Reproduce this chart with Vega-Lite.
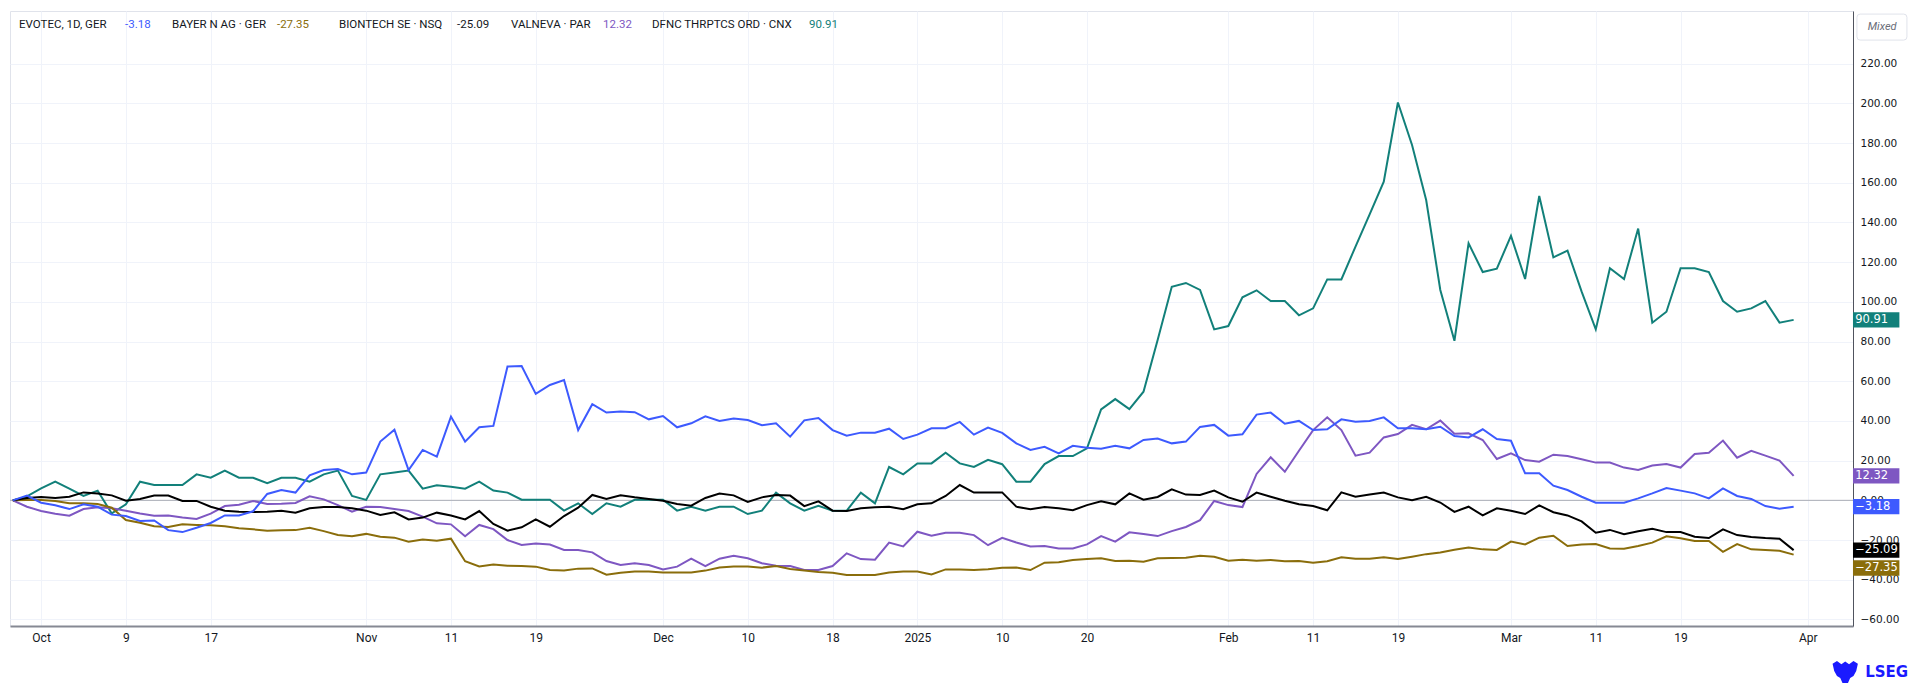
{
  "$schema": "https://vega.github.io/schema/vega-lite/v6.json",
  "width": 1843,
  "height": 615,
  "autosize": {"type": "none"},
  "padding": {"left": 10, "top": 11, "right": 67, "bottom": 58},
  "background": "#ffffff",
  "config": {"view": {"stroke": "#e0e3eb", "strokeWidth": 1}},
  "datasets": {
    "px": [
      {"d":"2024-09-27","evo":0,"bay":0,"bnt":0,"val":0,"dfn":0},
      {"d":"2024-09-30","evo":2.4,"bay":0.2,"bnt":1.2,"val":-3.2,"dfn":2},
      {"d":"2024-10-01","evo":-1.2,"bay":0.2,"bnt":1.7,"val":-5.4,"dfn":6},
      {"d":"2024-10-02","evo":-2.5,"bay":-0.3,"bnt":1.2,"val":-6.7,"dfn":9.4},
      {"d":"2024-10-03","evo":-4.4,"bay":-1.5,"bnt":1.8,"val":-7.7,"dfn":5.9},
      {"d":"2024-10-04","evo":-2,"bay":-1.5,"bnt":4,"val":-4.4,"dfn":2.2},
      {"d":"2024-10-07","evo":-3.2,"bay":-1.8,"bnt":3.5,"val":-3.5,"dfn":4.9},
      {"d":"2024-10-08","evo":-7.2,"bay":-3.7,"bnt":2.5,"val":-4,"dfn":-6.6},
      {"d":"2024-10-09","evo":-7.9,"bay":-9.9,"bnt":-0.2,"val":-5.2,"dfn":-2},
      {"d":"2024-10-10","evo":-10.4,"bay":-11.3,"bnt":0.7,"val":-6.6,"dfn":9.4},
      {"d":"2024-10-11","evo":-10.1,"bay":-13,"bnt":2.4,"val":-7.7,"dfn":7.7},
      {"d":"2024-10-14","evo":-15,"bay":-13.4,"bnt":2.4,"val":-7.6,"dfn":7.7},
      {"d":"2024-10-15","evo":-16,"bay":-12.1,"bnt":-0.3,"val":-8.6,"dfn":7.7},
      {"d":"2024-10-16","evo":-13.8,"bay":-12.4,"bnt":-0.3,"val":-9.4,"dfn":13.1},
      {"d":"2024-10-17","evo":-11.4,"bay":-12.6,"bnt":-3.2,"val":-6.7,"dfn":11.4},
      {"d":"2024-10-18","evo":-7.6,"bay":-13.1,"bnt":-5.2,"val":-2.9,"dfn":15},
      {"d":"2024-10-21","evo":-7.6,"bay":-14.1,"bnt":-5.7,"val":-2.2,"dfn":11.4},
      {"d":"2024-10-22","evo":-5.5,"bay":-14.6,"bnt":-5.9,"val":-0.3,"dfn":11.4},
      {"d":"2024-10-23","evo":3.2,"bay":-15.3,"bnt":-5.7,"val":-1.8,"dfn":8.6},
      {"d":"2024-10-24","evo":5.2,"bay":-15.1,"bnt":-5.2,"val":-1.7,"dfn":11.4},
      {"d":"2024-10-25","evo":3.9,"bay":-15,"bnt":-6.2,"val":-1.3,"dfn":11.4},
      {"d":"2024-10-28","evo":12.6,"bay":-13.8,"bnt":-4,"val":2,"dfn":9.4},
      {"d":"2024-10-29","evo":15.3,"bay":-15.5,"bnt":-3.4,"val":0.5,"dfn":13.1},
      {"d":"2024-10-30","evo":15.8,"bay":-17.5,"bnt":-3.4,"val":-2.4,"dfn":15},
      {"d":"2024-10-31","evo":13.1,"bay":-18.1,"bnt":-4,"val":-5.7,"dfn":2.2},
      {"d":"2024-11-01","evo":14,"bay":-16.9,"bnt":-5.2,"val":-3.2,"dfn":0.2},
      {"d":"2024-11-04","evo":29.6,"bay":-18.3,"bnt":-7.4,"val":-3.4,"dfn":13.1},
      {"d":"2024-11-05","evo":35.6,"bay":-18.8,"bnt":-6,"val":-4.4,"dfn":14},
      {"d":"2024-11-06","evo":15.3,"bay":-20.8,"bnt":-9.6,"val":-5.4,"dfn":15},
      {"d":"2024-11-07","evo":25.4,"bay":-19.7,"bnt":-8.7,"val":-8.2,"dfn":5.9},
      {"d":"2024-11-08","evo":22,"bay":-20.3,"bnt":-6.2,"val":-11.6,"dfn":7.6},
      {"d":"2024-11-11","evo":42.2,"bay":-19.3,"bnt":-7.6,"val":-12.1,"dfn":6.9},
      {"d":"2024-11-12","evo":29.6,"bay":-30.7,"bnt":-9.6,"val":-18.1,"dfn":5.9},
      {"d":"2024-11-13","evo":36.8,"bay":-33.3,"bnt":-5.4,"val":-12.4,"dfn":9.4},
      {"d":"2024-11-14","evo":37.5,"bay":-32.3,"bnt":-11.9,"val":-14.5,"dfn":4.9},
      {"d":"2024-11-15","evo":67.4,"bay":-32.9,"bnt":-15.3,"val":-20,"dfn":3.9},
      {"d":"2024-11-18","evo":67.7,"bay":-33.1,"bnt":-13.6,"val":-22.5,"dfn":0.3},
      {"d":"2024-11-19","evo":53.6,"bay":-33.4,"bnt":-9.6,"val":-21.8,"dfn":0.3},
      {"d":"2024-11-20","evo":58.1,"bay":-35.1,"bnt":-13.3,"val":-22.3,"dfn":0.3},
      {"d":"2024-11-21","evo":60.6,"bay":-35.4,"bnt":-7.9,"val":-25,"dfn":-5.2},
      {"d":"2024-11-22","evo":35.4,"bay":-34.4,"bnt":-3.7,"val":-25,"dfn":-1.5},
      {"d":"2024-11-25","evo":48.4,"bay":-34.3,"bnt":2.7,"val":-26.2,"dfn":-6.9},
      {"d":"2024-11-26","evo":44.2,"bay":-37.5,"bnt":0.7,"val":-30.6,"dfn":-1.5},
      {"d":"2024-11-27","evo":44.7,"bay":-36.5,"bnt":2.5,"val":-32.6,"dfn":-3.2},
      {"d":"2024-11-28","evo":44.4,"bay":-35.9,"bnt":1.5,"val":-31.7,"dfn":0.3},
      {"d":"2024-11-29","evo":40.8,"bay":-35.8,"bnt":0.7,"val":-32.6,"dfn":0.3},
      {"d":"2024-12-02","evo":42.5,"bay":-36.3,"bnt":-0.2,"val":-34.8,"dfn":0.3},
      {"d":"2024-12-03","evo":36.8,"bay":-36.3,"bnt":-1.8,"val":-33.4,"dfn":-5.2},
      {"d":"2024-12-04","evo":38.8,"bay":-36.3,"bnt":-2.7,"val":-29.4,"dfn":-3.2},
      {"d":"2024-12-05","evo":42.3,"bay":-35.4,"bnt":1.2,"val":-33.1,"dfn":-5.2},
      {"d":"2024-12-06","evo":40,"bay":-33.8,"bnt":3.4,"val":-29.4,"dfn":-3.2},
      {"d":"2024-12-09","evo":41.2,"bay":-33.3,"bnt":2.5,"val":-27.9,"dfn":-3.2},
      {"d":"2024-12-10","evo":40.5,"bay":-33.3,"bnt":-0.8,"val":-29.2,"dfn":-6.9},
      {"d":"2024-12-11","evo":37.8,"bay":-33.9,"bnt":1.5,"val":-31.7,"dfn":-5.2},
      {"d":"2024-12-12","evo":38.8,"bay":-33.1,"bnt":2.7,"val":-32.9,"dfn":3.9},
      {"d":"2024-12-13","evo":32.1,"bay":-34.6,"bnt":2.4,"val":-33.1,"dfn":-1.5},
      {"d":"2024-12-16","evo":40.3,"bay":-35.4,"bnt":-2.9,"val":-35.1,"dfn":-5.2},
      {"d":"2024-12-17","evo":41.5,"bay":-36.1,"bnt":-0.5,"val":-35.1,"dfn":-2.7},
      {"d":"2024-12-18","evo":35.4,"bay":-36.5,"bnt":-5.2,"val":-33.1,"dfn":-5.2},
      {"d":"2024-12-19","evo":32.6,"bay":-37.6,"bnt":-5.4,"val":-26.7,"dfn":-5.2},
      {"d":"2024-12-20","evo":34.1,"bay":-37.6,"bnt":-4,"val":-29.6,"dfn":3.9},
      {"d":"2024-12-23","evo":34.1,"bay":-37.6,"bnt":-3.5,"val":-29.9,"dfn":-1.5},
      {"d":"2024-12-27","evo":36.1,"bay":-36.3,"bnt":-3.2,"val":-21.3,"dfn":16.8},
      {"d":"2024-12-30","evo":30.9,"bay":-35.9,"bnt":-4.5,"val":-23.2,"dfn":13.1},
      {"d":"2025-01-02","evo":33.1,"bay":-35.8,"bnt":-2,"val":-15.8,"dfn":18.6},
      {"d":"2025-01-03","evo":36.3,"bay":-37.3,"bnt":-1.5,"val":-17.8,"dfn":18.6},
      {"d":"2025-01-06","evo":36.3,"bay":-34.8,"bnt":2.2,"val":-16.3,"dfn":24},
      {"d":"2025-01-07","evo":39.5,"bay":-34.8,"bnt":7.7,"val":-16.3,"dfn":18.6},
      {"d":"2025-01-08","evo":33.1,"bay":-35.1,"bnt":3.9,"val":-17.5,"dfn":16.8},
      {"d":"2025-01-09","evo":36.7,"bay":-34.7,"bnt":4,"val":-22.6,"dfn":20.4},
      {"d":"2025-01-10","evo":34,"bay":-34,"bnt":4,"val":-18.9,"dfn":18.2},
      {"d":"2025-01-13","evo":28.7,"bay":-33.8,"bnt":-3.2,"val":-21.2,"dfn":9.4},
      {"d":"2025-01-14","evo":25.4,"bay":-35.1,"bnt":-4.5,"val":-23.2,"dfn":9.4},
      {"d":"2025-01-15","evo":27,"bay":-31.4,"bnt":-3.4,"val":-23,"dfn":18.3},
      {"d":"2025-01-16","evo":23.7,"bay":-31.2,"bnt":-4,"val":-24.2,"dfn":22.3},
      {"d":"2025-01-17","evo":27.5,"bay":-30,"bnt":-5,"val":-24.2,"dfn":22.3},
      {"d":"2025-01-20","evo":26.5,"bay":-29.6,"bnt":-2.4,"val":-22.2,"dfn":26.2},
      {"d":"2025-01-21","evo":26,"bay":-29.2,"bnt":-0.5,"val":-18,"dfn":45.8},
      {"d":"2025-01-22","evo":27.5,"bay":-30.6,"bnt":-2,"val":-20.8,"dfn":51},
      {"d":"2025-01-23","evo":26.2,"bay":-30.4,"bnt":3.5,"val":-16.1,"dfn":46},
      {"d":"2025-01-24","evo":30.4,"bay":-30.9,"bnt":0.3,"val":-17,"dfn":54.7},
      {"d":"2025-01-27","evo":31.1,"bay":-29.2,"bnt":1.7,"val":-18,"dfn":80.8},
      {"d":"2025-01-28","evo":28.7,"bay":-29,"bnt":5.5,"val":-15.5,"dfn":107.6},
      {"d":"2025-01-29","evo":29.6,"bay":-28.9,"bnt":2.9,"val":-13.4,"dfn":109.5},
      {"d":"2025-01-30","evo":37,"bay":-27.9,"bnt":2.7,"val":-10,"dfn":106},
      {"d":"2025-01-31","evo":38,"bay":-28.4,"bnt":4.9,"val":-0.3,"dfn":86.1},
      {"d":"2025-02-03","evo":32.6,"bay":-30.4,"bnt":1.5,"val":-2.4,"dfn":87.8},
      {"d":"2025-02-04","evo":33.3,"bay":-29.9,"bnt":-0.7,"val":-3.4,"dfn":102.3},
      {"d":"2025-02-05","evo":43.2,"bay":-30.4,"bnt":3.9,"val":13.3,"dfn":105.8},
      {"d":"2025-02-06","evo":44.2,"bay":-30,"bnt":1.8,"val":21.7,"dfn":100.4},
      {"d":"2025-02-07","evo":38.6,"bay":-30.7,"bnt":-0.2,"val":14.4,"dfn":100.4},
      {"d":"2025-02-10","evo":40,"bay":-30.6,"bnt":-2,"val":25,"dfn":93.2},
      {"d":"2025-02-11","evo":35.4,"bay":-31.4,"bnt":-2.9,"val":35.4,"dfn":96.7},
      {"d":"2025-02-12","evo":35.8,"bay":-30.7,"bnt":-5,"val":41.8,"dfn":111.3},
      {"d":"2025-02-13","evo":40.8,"bay":-28.7,"bnt":4,"val":35.4,"dfn":111.3},
      {"d":"2025-02-14","evo":39.6,"bay":-29.4,"bnt":1.8,"val":22.5,"dfn":127.8},
      {"d":"2025-02-17","evo":40,"bay":-29.4,"bnt":2.9,"val":24,"dfn":144.1},
      {"d":"2025-02-18","evo":41.8,"bay":-28.7,"bnt":3.9,"val":31.7,"dfn":160.5},
      {"d":"2025-02-19","evo":36.3,"bay":-29.6,"bnt":1.5,"val":33.4,"dfn":200.4},
      {"d":"2025-02-20","evo":36.3,"bay":-28.4,"bnt":0,"val":38,"dfn":179},
      {"d":"2025-02-21","evo":35.8,"bay":-27.1,"bnt":1.8,"val":35.8,"dfn":151.3},
      {"d":"2025-02-24","evo":37.1,"bay":-26.3,"bnt":-1.1,"val":40.2,"dfn":106},
      {"d":"2025-02-25","evo":32.4,"bay":-24.9,"bnt":-5.8,"val":33.6,"dfn":80.4},
      {"d":"2025-02-26","evo":31.7,"bay":-23.8,"bnt":-3.2,"val":33.8,"dfn":129.5},
      {"d":"2025-02-27","evo":35.8,"bay":-24.7,"bnt":-7.6,"val":30.4,"dfn":115},
      {"d":"2025-02-28","evo":30.9,"bay":-25,"bnt":-4,"val":20.8,"dfn":116.7},
      {"d":"2025-03-03","evo":30,"bay":-20.8,"bnt":-5.2,"val":23.7,"dfn":133.2},
      {"d":"2025-03-04","evo":13.6,"bay":-22.2,"bnt":-6.9,"val":20.3,"dfn":111.5},
      {"d":"2025-03-05","evo":13.6,"bay":-18.8,"bnt":-2.5,"val":19.5,"dfn":153.3},
      {"d":"2025-03-06","evo":7.4,"bay":-17.8,"bnt":-6,"val":23,"dfn":122.4},
      {"d":"2025-03-07","evo":5.2,"bay":-23,"bnt":-7.6,"val":22.3,"dfn":125.8},
      {"d":"2025-03-10","evo":1.8,"bay":-22.2,"bnt":-10.6,"val":20.7,"dfn":105.1},
      {"d":"2025-03-11","evo":-1.2,"bay":-22,"bnt":-16.3,"val":19,"dfn":86.1},
      {"d":"2025-03-12","evo":-1.2,"bay":-24.2,"bnt":-14.9,"val":19,"dfn":116.9},
      {"d":"2025-03-13","evo":-1.2,"bay":-24.4,"bnt":-17.1,"val":16.5,"dfn":111.5},
      {"d":"2025-03-14","evo":1,"bay":-23,"bnt":-15.6,"val":15.3,"dfn":136.9},
      {"d":"2025-03-17","evo":3.5,"bay":-21.3,"bnt":-14.3,"val":17.5,"dfn":89.5},
      {"d":"2025-03-18","evo":6.2,"bay":-18.1,"bnt":-16,"val":18.3,"dfn":95},
      {"d":"2025-03-19","evo":4.9,"bay":-19.1,"bnt":-16,"val":16.5,"dfn":116.9},
      {"d":"2025-03-20","evo":3.5,"bay":-20.5,"bnt":-18.3,"val":23.3,"dfn":116.9},
      {"d":"2025-03-21","evo":1,"bay":-20.5,"bnt":-19,"val":24,"dfn":115},
      {"d":"2025-03-24","evo":6,"bay":-25.9,"bnt":-14.6,"val":30.1,"dfn":100.4},
      {"d":"2025-03-25","evo":2.2,"bay":-22,"bnt":-17.5,"val":21.5,"dfn":95},
      {"d":"2025-03-26","evo":0.7,"bay":-24.7,"bnt":-18.5,"val":24.9,"dfn":96.7},
      {"d":"2025-03-27","evo":-2.9,"bay":-25,"bnt":-19,"val":22.5,"dfn":100.4},
      {"d":"2025-03-28","evo":-4.2,"bay":-25.4,"bnt":-19.3,"val":20,"dfn":89.5},
      {"d":"2025-03-31","evo":-3.18,"bay":-27.35,"bnt":-25.09,"val":12.32,"dfn":90.91}
    ]
  },
  "layer": [
    {
      "data": {"values": [{}]},
      "mark": {"type": "rule", "color": "#a9acb5", "strokeWidth": 1},
      "encoding": {"y": {"datum": 0, "type": "quantitative"}}
    },
    {
      "data": {"name": "px"},
      "transform": [{"fold": ["dfn", "val", "bay", "bnt", "evo"], "as": ["s", "v"]}],
      "mark": {"type": "line", "strokeWidth": 2},
      "encoding": {
        "x": {
          "field": "d",
          "type": "ordinal",
          "scale": {
            "type": "point",
            "padding": 0.2,
            "domain": ["2024-09-27","2024-09-30","2024-10-01","2024-10-02","2024-10-03","2024-10-04","2024-10-07","2024-10-08","2024-10-09","2024-10-10","2024-10-11","2024-10-14","2024-10-15","2024-10-16","2024-10-17","2024-10-18","2024-10-21","2024-10-22","2024-10-23","2024-10-24","2024-10-25","2024-10-28","2024-10-29","2024-10-30","2024-10-31","2024-11-01","2024-11-04","2024-11-05","2024-11-06","2024-11-07","2024-11-08","2024-11-11","2024-11-12","2024-11-13","2024-11-14","2024-11-15","2024-11-18","2024-11-19","2024-11-20","2024-11-21","2024-11-22","2024-11-25","2024-11-26","2024-11-27","2024-11-28","2024-11-29","2024-12-02","2024-12-03","2024-12-04","2024-12-05","2024-12-06","2024-12-09","2024-12-10","2024-12-11","2024-12-12","2024-12-13","2024-12-16","2024-12-17","2024-12-18","2024-12-19","2024-12-20","2024-12-23","2024-12-27","2024-12-30","2025-01-02","2025-01-03","2025-01-06","2025-01-07","2025-01-08","2025-01-09","2025-01-10","2025-01-13","2025-01-14","2025-01-15","2025-01-16","2025-01-17","2025-01-20","2025-01-21","2025-01-22","2025-01-23","2025-01-24","2025-01-27","2025-01-28","2025-01-29","2025-01-30","2025-01-31","2025-02-03","2025-02-04","2025-02-05","2025-02-06","2025-02-07","2025-02-10","2025-02-11","2025-02-12","2025-02-13","2025-02-14","2025-02-17","2025-02-18","2025-02-19","2025-02-20","2025-02-21","2025-02-24","2025-02-25","2025-02-26","2025-02-27","2025-02-28","2025-03-03","2025-03-04","2025-03-05","2025-03-06","2025-03-07","2025-03-10","2025-03-11","2025-03-12","2025-03-13","2025-03-14","2025-03-17","2025-03-18","2025-03-19","2025-03-20","2025-03-21","2025-03-24","2025-03-25","2025-03-26","2025-03-27","2025-03-28","2025-03-31","2025-04-01","2025-04-02","2025-04-03","2025-04-04"]
          },
          "axis": {
            "title": null,
            "values": ["2024-10-01","2024-10-09","2024-10-17","2024-11-01","2024-11-11","2024-11-19","2024-12-02","2024-12-10","2024-12-18","2025-01-02","2025-01-10","2025-01-20","2025-02-03","2025-02-11","2025-02-19","2025-03-03","2025-03-11","2025-03-19","2025-04-01"],
            "labelExpr": "datum.value == '2024-10-01' ? 'Oct' : datum.value == '2024-11-01' ? 'Nov' : datum.value == '2024-12-02' ? 'Dec' : datum.value == '2025-01-02' ? '2025' : datum.value == '2025-02-03' ? 'Feb' : datum.value == '2025-03-03' ? 'Mar' : datum.value == '2025-04-01' ? 'Apr' : '' + parseInt(substring(datum.value, 8, 10))",
            "labelAngle": 0,
            "ticks": false,
            "grid": true,
            "gridColor": "#f0f3fa",
            "gridWidth": 1,
            "domainColor": "#868993",
            "domainWidth": 2,
            "labelFont": "Roboto",
            "labelFontSize": 12,
            "labelColor": "#131722",
            "labelPadding": 6,
            "labelOverlap": false,
            "labelFlush": false
          }
        },
        "y": {
          "field": "v",
          "type": "quantitative",
          "scale": {"domain": [-63.3, 246.5], "nice": false, "zero": false},
          "axis": {
            "orient": "right",
            "title": null,
            "values": [-60,-40,-20,0,20,40,60,80,100,120,140,160,180,200,220],
            "format": ".2f",
            "ticks": false,
            "labelPadding": 7,
            "labelFont": "DejaVu Sans",
            "labelFontSize": 10.5,
            "labelColor": "#131722",
            "grid": true,
            "gridColor": "#f0f3fa",
            "gridWidth": 1,
            "domainColor": "#50535e",
            "domainWidth": 1,
            "labelFlush": false,
            "labelOverlap": false
          }
        },
        "color": {
          "field": "s",
          "type": "nominal",
          "scale": {"domain": ["dfn", "val", "bay", "bnt", "evo"], "range": ["#12807a", "#7e57c2", "#8a6d0b", "#000000", "#3d5afe"]},
          "legend": null
        }
      }
    },
    {
      "data": {"name": "px"},
      "transform": [{"fold": ["dfn", "val", "bay", "bnt", "evo"], "as": ["s", "v"]}, {"filter": "datum.d == '2025-03-31' && datum.s != 'bay'"}],
      "mark": {"type": "point", "filled": true, "opacity": 1, "strokeWidth": 0, "size": 2116, "shape": "M0.122,-0.335H2.14V0.335H0.122Z"},
      "encoding": {
        "x": {"datum": "2025-04-04", "type": "ordinal"},
        "y": {"field": "v", "type": "quantitative"},
        "color": {"field": "s", "type": "nominal", "legend": null}
      }
    },
    {
      "data": {"name": "px"},
      "transform": [{"fold": ["dfn", "val", "bay", "bnt", "evo"], "as": ["s", "v"]}, {"filter": "datum.d == '2025-03-31' && datum.s != 'bay'"}],
      "mark": {"type": "text", "align": "left", "baseline": "middle", "dx": 5, "font": "DejaVu Sans", "fontSize": 11.5, "fill": "#ffffff"},
      "encoding": {
        "x": {"datum": "2025-04-04", "type": "ordinal"},
        "y": {"field": "v", "type": "quantitative"},
        "text": {"field": "v", "type": "quantitative", "format": ".2f"}
      }
    },
    {
      "data": {"name": "px"},
      "transform": [{"fold": ["bay"], "as": ["s", "v"]}, {"filter": "datum.d == '2025-03-31'"}],
      "mark": {"type": "point", "filled": true, "opacity": 1, "strokeWidth": 0, "size": 2116, "shape": "M0.122,0.248H2.14V0.918H0.122Z"},
      "encoding": {
        "x": {"datum": "2025-04-04", "type": "ordinal"},
        "y": {"field": "v", "type": "quantitative"},
        "color": {"field": "s", "type": "nominal", "legend": null}
      }
    },
    {
      "data": {"name": "px"},
      "transform": [{"fold": ["bay"], "as": ["s", "v"]}, {"filter": "datum.d == '2025-03-31'"}],
      "mark": {"type": "text", "align": "left", "baseline": "middle", "dx": 5, "dy": 13.4, "font": "DejaVu Sans", "fontSize": 11.5, "fill": "#ffffff"},
      "encoding": {
        "x": {"datum": "2025-04-04", "type": "ordinal"},
        "y": {"field": "v", "type": "quantitative"},
        "text": {"field": "v", "type": "quantitative", "format": ".2f"}
      }
    },
    {
      "data": {"values": [{}]},
      "mark": {"type": "point", "filled": true, "opacity": 1, "fill": "#ffffff", "stroke": "#e0e3eb", "strokeWidth": 1, "size": 2500, "shape": "M0.4,-0.52H2.14Q2.27,-0.52 2.27,-0.39V0.39Q2.27,0.52 2.14,0.52H0.4Q0.27,0.52 0.27,0.39V-0.39Q0.27,-0.52 0.4,-0.52Z"},
      "encoding": {"x": {"datum": "2025-04-04", "type": "ordinal"}, "y": {"datum": 238.4, "type": "quantitative"}}
    },
    {
      "data": {"values": [{}]},
      "mark": {"type": "text", "text": "Mixed", "align": "center", "baseline": "middle", "dx": 32, "font": "Roboto", "fontSize": 11, "fontStyle": "italic", "fill": "#6a6d78"},
      "encoding": {"x": {"datum": "2025-04-04", "type": "ordinal"}, "y": {"datum": 238.4, "type": "quantitative"}}
    },
    {
      "data": {"values": [{}]},
      "mark": {"type": "point", "filled": true, "opacity": 1, "fill": "#1a1aff", "strokeWidth": 0, "size": 484, "shape": "M-1.6,-0.75L-1.2,-1L-0.8,-0.7L-0.45,-0.95L-0.1,-0.7L0.3,-1L0.7,-0.75L0.55,-0.1L0.3,0.35L0,0.55L-0.2,1L-0.7,1L-0.9,0.55L-1.2,0.35L-1.45,-0.1Z"},
      "encoding": {"x": {"datum": "2025-04-04", "type": "ordinal"}, "y": {"datum": -86.5, "type": "quantitative"}}
    },
    {
      "data": {"values": [{}]},
      "mark": {"type": "text", "text": "LSEG", "align": "left", "baseline": "middle", "dx": 15, "font": "DejaVu Sans", "fontSize": 15, "fontWeight": "bold", "fill": "#1a1aff"},
      "encoding": {"x": {"datum": "2025-04-04", "type": "ordinal"}, "y": {"datum": -86.5, "type": "quantitative"}}
    },
    {
      "data": {"values": [{}]},
      "mark": {"type": "text", "text": "EVOTEC, 1D, GER", "align": "left", "baseline": "middle", "dx": 6.2, "font": "Roboto", "fontSize": 11.5, "fill": "#131722"},
      "encoding": {"x": {"datum": "2024-09-27", "type": "ordinal"}, "y": {"datum": 239.5, "type": "quantitative"}}
    },
    {
      "data": {"values": [{}]},
      "mark": {"type": "text", "text": "-3.18", "align": "left", "baseline": "middle", "dx": -0.9, "font": "Roboto", "fontSize": 11.5, "fill": "#3d5afe"},
      "encoding": {"x": {"datum": "2024-10-09", "type": "ordinal"}, "y": {"datum": 239.5, "type": "quantitative"}}
    },
    {
      "data": {"values": [{}]},
      "mark": {"type": "text", "text": "BAYER N AG · GER", "align": "left", "baseline": "middle", "dx": 3.7, "font": "Roboto", "fontSize": 11.5, "fill": "#131722"},
      "encoding": {"x": {"datum": "2024-10-14", "type": "ordinal"}, "y": {"datum": 239.5, "type": "quantitative"}}
    },
    {
      "data": {"values": [{}]},
      "mark": {"type": "text", "text": "-27.35", "align": "left", "baseline": "middle", "dx": -4.4, "font": "Roboto", "fontSize": 11.5, "fill": "#8a6d0b"},
      "encoding": {"x": {"datum": "2024-10-24", "type": "ordinal"}, "y": {"datum": 239.5, "type": "quantitative"}}
    },
    {
      "data": {"values": [{}]},
      "mark": {"type": "text", "text": "BIONTECH SE · NSQ", "align": "left", "baseline": "middle", "dx": 1.1, "font": "Roboto", "fontSize": 11.5, "fill": "#131722"},
      "encoding": {"x": {"datum": "2024-10-30", "type": "ordinal"}, "y": {"datum": 239.5, "type": "quantitative"}}
    },
    {
      "data": {"values": [{}]},
      "mark": {"type": "text", "text": "-25.09", "align": "left", "baseline": "middle", "dx": 6.1, "font": "Roboto", "fontSize": 11.5, "fill": "#131722"},
      "encoding": {"x": {"datum": "2024-11-11", "type": "ordinal"}, "y": {"datum": 239.5, "type": "quantitative"}}
    },
    {
      "data": {"values": [{}]},
      "mark": {"type": "text", "text": "VALNEVA · PAR", "align": "left", "baseline": "middle", "dx": 3.5, "font": "Roboto", "fontSize": 11.5, "fill": "#131722"},
      "encoding": {"x": {"datum": "2024-11-15", "type": "ordinal"}, "y": {"datum": 239.5, "type": "quantitative"}}
    },
    {
      "data": {"values": [{}]},
      "mark": {"type": "text", "text": "12.32", "align": "left", "baseline": "middle", "dx": -3.4, "font": "Roboto", "fontSize": 11.5, "fill": "#7e57c2"},
      "encoding": {"x": {"datum": "2024-11-26", "type": "ordinal"}, "y": {"datum": 239.5, "type": "quantitative"}}
    },
    {
      "data": {"values": [{}]},
      "mark": {"type": "text", "text": "DFNC THRPTCS ORD · CNX", "align": "left", "baseline": "middle", "dx": 3.2, "font": "Roboto", "fontSize": 11.5, "fill": "#131722"},
      "encoding": {"x": {"datum": "2024-11-29", "type": "ordinal"}, "y": {"datum": 239.5, "type": "quantitative"}}
    },
    {
      "data": {"values": [{}]},
      "mark": {"type": "text", "text": "90.91", "align": "left", "baseline": "middle", "dx": 4.7, "font": "Roboto", "fontSize": 11.5, "fill": "#12807a"},
      "encoding": {"x": {"datum": "2024-12-16", "type": "ordinal"}, "y": {"datum": 239.5, "type": "quantitative"}}
    }
  ]
}
